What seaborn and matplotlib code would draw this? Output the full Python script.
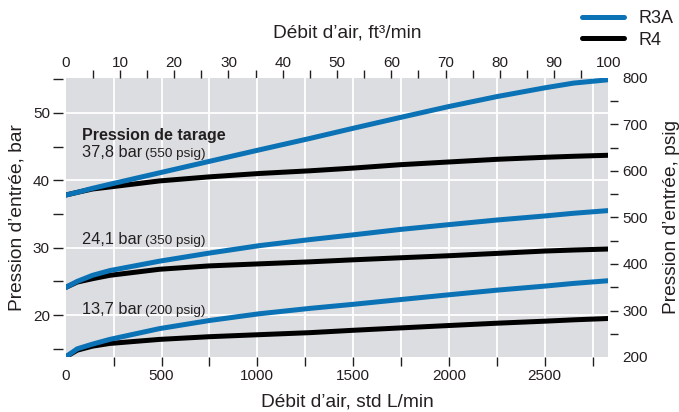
import matplotlib
matplotlib.use("Agg")  # no display

import matplotlib.pyplot as plt
import numpy as np
import pandas as pd
import seaborn as sns
from matplotlib.lines import Line2D
from matplotlib.ticker import FixedLocator

# ── Data ─────────────────────────────────────────────────────────────────────
debit_lpm = [0, 60, 140, 230, 490, 750, 1010, 1275, 1500, 1745, 1995, 2250, 2500, 2650, 2832]

r3a_378 = [37.8, 38.2, 38.8, 39.4, 41.1, 42.8, 44.5, 46.2, 47.7, 49.3, 50.9, 52.4, 53.7, 54.4, 54.9]
r4_378 = [37.8, 38.2, 38.7, 39.0, 39.9, 40.5, 41.0, 41.4, 41.8, 42.3, 42.7, 43.1, 43.4, 43.55, 43.7]
r3a_241 = [24.1, 25.0, 25.9, 26.6, 28.0, 29.2, 30.3, 31.2, 31.9, 32.7, 33.4, 34.1, 34.7, 35.1, 35.5]
r4_241 = [24.1, 24.9, 25.4, 25.9, 26.8, 27.3, 27.6, 27.9, 28.2, 28.5, 28.8, 29.15, 29.5, 29.65, 29.8]
r3a_137 = [13.8, 15.0, 15.7, 16.4, 18.0, 19.2, 20.2, 21.0, 21.6, 22.3, 23.0, 23.7, 24.3, 24.7, 25.1]
r4_137 = [13.8, 14.8, 15.4, 15.8, 16.4, 16.8, 17.1, 17.4, 17.75, 18.1, 18.45, 18.8, 19.1, 19.3, 19.5]

tarages = ["37,8 bar", "24,1 bar", "13,7 bar"]
tarages_psig = ["(550 psig)", "(350 psig)", "(200 psig)"]
modeles = ["R3A", "R4"]

xticks_lpm = [0, 500, 1000, 1500, 2000, 2500]
xticks_cfm = [0, 10, 20, 30, 40, 50, 60, 70, 80, 90, 100]
yticks_bar = [20, 30, 40, 50]
yticks_psig = [200, 300, 400, 500, 600, 700, 800]

LPM_PER_CFM = 28.3168
PSI_PER_BAR = 14.5038

# ── Style ────────────────────────────────────────────────────────────────────
BLUE = "#0b72b5"
BLACK = "#000000"
TEXT = "#231f20"
BG = "#dcdde0"

sns.set_theme(style="darkgrid", rc={
    "axes.facecolor": BG,
    "grid.color": "white",
    "grid.linewidth": 1.3,
    "xtick.color": TEXT,
    "ytick.color": TEXT,
    "text.color": TEXT,
    "axes.labelcolor": TEXT,
})
plt.rcParams["font.family"] = ["Liberation Sans", "DejaVu Sans"]

rows = []
for modele, tarage, values in [
    ("R4", tarages[0], r4_378), ("R4", tarages[1], r4_241), ("R4", tarages[2], r4_137),
    ("R3A", tarages[0], r3a_378), ("R3A", tarages[1], r3a_241), ("R3A", tarages[2], r3a_137),
]:
    for x, y in zip(debit_lpm, values):
        rows.append({"debit": x, "pression": y, "modele": modele, "tarage": tarage})
df = pd.DataFrame(rows)

W, H = 679, 412
fig = plt.figure(figsize=(W / 100, H / 100), dpi=100)
ax = fig.add_axes([65.7 / W, 1 - 357 / H, 542.6 / W, 279 / H])

sns.lineplot(
    data=df, x="debit", y="pression", hue="modele", units="tarage",
    estimator=None, hue_order=["R4", "R3A"],
    palette={"R3A": BLUE, "R4": BLACK}, lw=3.6, legend=False, ax=ax,
)

ax.set_xlim(0, 100 * LPM_PER_CFM)
ax.set_ylim(200 / PSI_PER_BAR, 800 / PSI_PER_BAR)
for s in ax.spines.values():
    s.set_visible(False)
ax.spines["left"].set_position(("outward", 2))

# bottom axis: labels every 500, marks every 250
ax.set_xticks(xticks_lpm)
ax.set_xticklabels([str(v) for v in xticks_lpm])
ax.xaxis.set_minor_locator(FixedLocator(np.arange(250, 2800, 250)))
ax.xaxis.remove_overlapping_locs = False
ax.tick_params(axis="x", which="major", bottom=True, length=0, pad=8.5, labelsize=11)
ax.tick_params(axis="x", which="minor", bottom=True, length=6.5, width=1, color=TEXT)

# left axis: labels every 10, marks every 5
ax.set_yticks(yticks_bar)
ax.set_yticklabels([str(v) for v in yticks_bar])
ax.yaxis.set_minor_locator(FixedLocator(np.arange(15, 56, 5)))
ax.yaxis.remove_overlapping_locs = False
ax.tick_params(axis="y", which="major", left=True, length=0, pad=9.4, labelsize=11)
ax.tick_params(axis="y", which="minor", left=True, length=7, width=1, color=TEXT)

ax.grid(False)
ax.grid(True, which="minor", axis="x", color="white", lw=1.3)
ax.grid(True, which="major", axis="y", color="white", lw=1.3)
ax.set_axisbelow(True)

# top axis in ft3/min
secx = ax.secondary_xaxis("top", functions=(lambda v: v / LPM_PER_CFM, lambda v: v * LPM_PER_CFM))
secx.set_xticks(xticks_cfm)
secx.set_xticklabels([str(v) for v in xticks_cfm])
secx.xaxis.set_minor_locator(FixedLocator(np.arange(5, 96, 5)))
secx.xaxis.remove_overlapping_locs = False
secx.tick_params(axis="x", which="major", top=True, length=0, pad=5.8, labelsize=11)
secx.tick_params(axis="x", which="minor", top=True, length=6, width=1, color=TEXT)
for s in secx.spines.values():
    s.set_visible(False)

# right axis in psig
secy = ax.secondary_yaxis(1 + 1.5 / 542.6, functions=(lambda v: v * PSI_PER_BAR, lambda v: v / PSI_PER_BAR))
secy.set_yticks(yticks_psig)
secy.set_yticklabels([str(v) for v in yticks_psig])
secy.yaxis.set_minor_locator(FixedLocator(np.arange(250, 751, 50)))
secy.yaxis.remove_overlapping_locs = False
secy.tick_params(axis="y", which="major", right=True, length=0, pad=9.3, labelsize=11)
secy.tick_params(axis="y", which="minor", right=True, length=5.8, width=1, color=TEXT)
for s in secy.spines.values():
    s.set_visible(False)

# axis titles (positions given in the main axes' coordinates)
LABEL_FS = 13.8
ax.set_xlabel("Débit d’air, std L/min", fontsize=LABEL_FS, va="center")
ax.xaxis.set_label_coords(0.519, -0.160)
ax.set_ylabel("Pression d’entrée, bar", fontsize=LABEL_FS, va="center")
ax.yaxis.set_label_coords(-0.0898, 0.5)
secx.set_xlabel("Débit d’air, ft³/min", fontsize=LABEL_FS, va="center")
secx.xaxis.set_label_coords(0.519, 1.161, transform=ax.transAxes)
secy.set_ylabel("Pression d’entrée, psig", fontsize=LABEL_FS, va="center", rotation=90)
secy.yaxis.set_label_coords(1.117, 0.5, transform=ax.transAxes)

# set-pressure annotations
ax.text(84, 46.0, "Pression de tarage", fontsize=11.5, fontweight="bold", va="baseline")
for t, p, yb in zip(tarages, tarages_psig, [43.5, 30.6, 20.2]):
    ax.text(84, yb, t, fontsize=11.8, va="baseline")
    ax.text(414, yb, p, fontsize=9.7, va="baseline")

# legend
handles = [Line2D([], [], color=BLUE, lw=3.6), Line2D([], [], color=BLACK, lw=3.6)]
fig.legend(
    handles, modeles, loc="upper left", bbox_to_anchor=(582 / W, 1 - 10 / H),
    frameon=False, fontsize=13, handlelength=2.33, handletextpad=0.78,
    labelspacing=0.25, borderpad=0, borderaxespad=0,
)

fig.savefig("out.png", dpi=100)
